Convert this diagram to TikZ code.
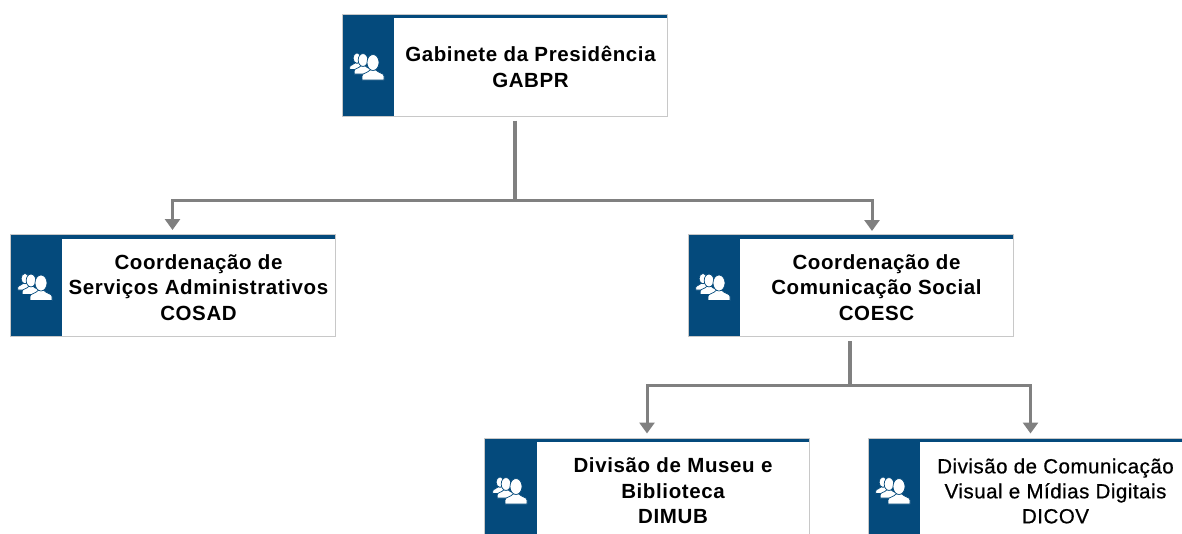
\documentclass[tikz,border=0pt]{standalone}
\usepackage{fontspec}
\setmainfont{Liberation Sans}
\newfontfamily\labelfont[LetterSpace=3]{Liberation Sans}
\newfontfamily\lowerfont[LetterSpace=2.5,FakeBold=0.6]{Liberation Sans}
\usetikzlibrary{arrows.meta}
\definecolor{navy}{HTML}{044A7C}
\definecolor{connector}{HTML}{808080}
\definecolor{edge}{HTML}{C8C8C8}
\tikzset{
    orgbox/.style={draw=edge, line width=1pt, fill=white, minimum width=325pt, minimum height=102pt, inner sep=0pt,
        path picture={
            \fill[navy] (path picture bounding box.north west) rectangle ++(52pt,-102pt);
            \fill[navy] (path picture bounding box.north west) rectangle ++(325pt,-4pt);
        }},
    orgtext/.style={align=center, font=\labelfont\bfseries\fontsize{20.5}{25.5}\selectfont, inner sep=0pt},
    lowertext/.style={align=center, font=\lowerfont\fontsize{20.5}{25}\selectfont, inner sep=0pt},
    conn/.style={draw=connector, line width=4pt},
    arrowconn/.style={draw=connector, line width=3pt, -{Triangle[width=15pt,length=11pt]}, shorten >=4pt},
    pics/staff/.style={code={
        \foreach \dx/\dy/\s in {-11/5.25/0.65, -5/3/0.8, 5/0/1} {
            \begin{scope}[shift={(\dx pt,\dy pt)}, scale=\s]
                \fill[white, draw=navy, line width=0.7pt] (-11,15) -- (-11,11) .. controls (-11,8) and (-5,8) .. (-3,5) -- (3,5) .. controls (5,8) and (11,8) .. (11,11) -- (11,15) -- cycle;
                \fill[white, draw=navy, line width=0.7pt] (0,-2.5) ellipse (6 and 8);
            \end{scope}
        }
    }}
}
\begin{document}
\begin{tikzpicture}[x=1pt, y=-1pt]
        \clip (0, 0) rectangle (1182, 533);
        \node (gabpr) [orgbox] at (504.5, 65) {};
        \node (cosad) [orgbox] at (172.5, 285.5) {};
        \node (coesc) [orgbox] at (850.5, 285.5) {};
        \node (dimub) [orgbox] at (647, 489) {};
        \node (dicov) [orgbox] at (1030.5, 489) {};
        \node (gabprtext) [orgtext] at ([xshift=26pt, yshift=-2pt]gabpr.center) {Gabinete da Presidência\\GABPR};
        \node (cosadtext) [orgtext] at ([xshift=26pt, yshift=-2pt]cosad.center) {Coordenação de\\Serviços Administrativos\\COSAD};
        \node (coesctext) [orgtext] at ([xshift=26pt, yshift=-2pt]coesc.center) {Coordenação de\\Comunicação Social\\COESC};
        \node (dimubtext) [orgtext] at ([xshift=26pt, yshift=-2pt]dimub.center) {Divisão de Museu e\\Biblioteca\\DIMUB};
        \node (dicovtext) [lowertext] at ([xshift=25pt, yshift=-2pt]dicov.center) {Divisão de Comunicação\\Visual e Mídias Digitais\\DICOV};
        \pic at (368, 65) {staff};
        \pic at (36, 285.5) {staff};
        \pic at (714, 285.5) {staff};
        \pic at (511, 489) {staff};
        \pic at (894, 489) {staff};
        \coordinate (topjoin) at (515, 200);
        \coordinate (lowjoin) at (850, 385);
        \coordinate (coescin) at (872, 235);
        \draw[conn, shorten <=4pt] (topjoin |- gabpr.south) -- (topjoin);
        \draw[arrowconn] (topjoin) -| (cosad.north);
        \draw[arrowconn] (topjoin) -| (coescin);
        \draw[conn, shorten <=4pt] (lowjoin |- coesc.south) -- (lowjoin);
        \draw[arrowconn] (lowjoin) -| (dimub.north);
        \draw[arrowconn] (lowjoin) -| (dicov.north);
      \end{tikzpicture}
\end{document}
